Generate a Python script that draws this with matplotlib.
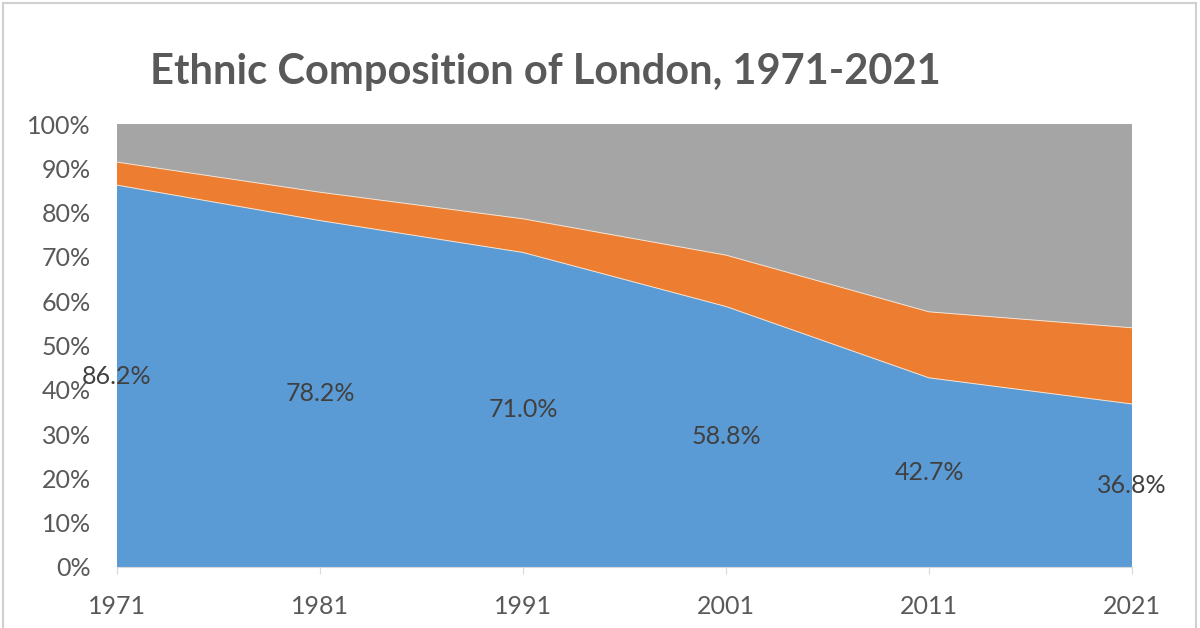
import matplotlib
matplotlib.use("Agg")
import matplotlib.pyplot as plt
from matplotlib.patches import Rectangle
import numpy as np

years = [1971, 1981, 1991, 2001, 2011, 2021]
white_british = [86.2, 78.2, 71.0, 58.8, 42.7, 36.8]
other_white = [5.2, 6.4, 7.6, 11.6, 14.9, 17.2]
non_white = [100 - a - b for a, b in zip(white_british, other_white)]
y_ticks = list(range(0, 101, 10))

plt.rcParams["font.family"] = ["Lato", "DejaVu Sans"]
text_gray = "#595959"

fig = plt.figure(figsize=(12, 6.28), dpi=100)
ax = fig.add_axes([117 / 1200, 1 - 567 / 628, (1132 - 117) / 1200, (567 - 124) / 628])

ax.stackplot(years, white_british, other_white, non_white,
             colors=["#5B9BD5", "#ED7D31", "#A5A5A5"], linewidth=0)
# thin light seams between the layers
lower = np.array(white_british)
upper = lower + np.array(other_white)
ax.plot(years, lower, color="#F2E2D2", linewidth=0.7)
ax.plot(years, upper, color="#F2E2D2", linewidth=0.7)

for x, v in zip(years, white_british):
    ax.text(x, v / 2, f"{v:.1f}%", ha="center", va="center",
            fontsize=18, color="#404040")

ax.set_xlim(years[0], years[-1])
ax.set_ylim(0, 100)
ax.set_xticks(years)
ax.set_xticklabels([str(y) for y in years])
ax.set_yticks(y_ticks)
ax.set_yticklabels([f"{t}%" for t in y_ticks])
ax.tick_params(axis="x", length=5, color="#D9D9D9", pad=15, labelsize=18, labelcolor=text_gray)
ax.tick_params(axis="y", length=0, pad=19, labelsize=18, labelcolor=text_gray)
for s in ["top", "right", "left"]:
    ax.spines[s].set_visible(False)
ax.spines["bottom"].set_color("#D9D9D9")

fig.text(150 / 1200, 1 - 72 / 628, "Ethnic Composition of London, 1971-2021",
         ha="left", va="center", fontsize=30, fontweight="bold", color=text_gray)

fig.patches.append(Rectangle((3 / 1200, -0.01), 1193 / 1200, 1 - 3 / 628 + 0.01,
                             transform=fig.transFigure, fill=False,
                             edgecolor="#D0D0D0", linewidth=1.5))

fig.savefig("out.png", dpi=100)
